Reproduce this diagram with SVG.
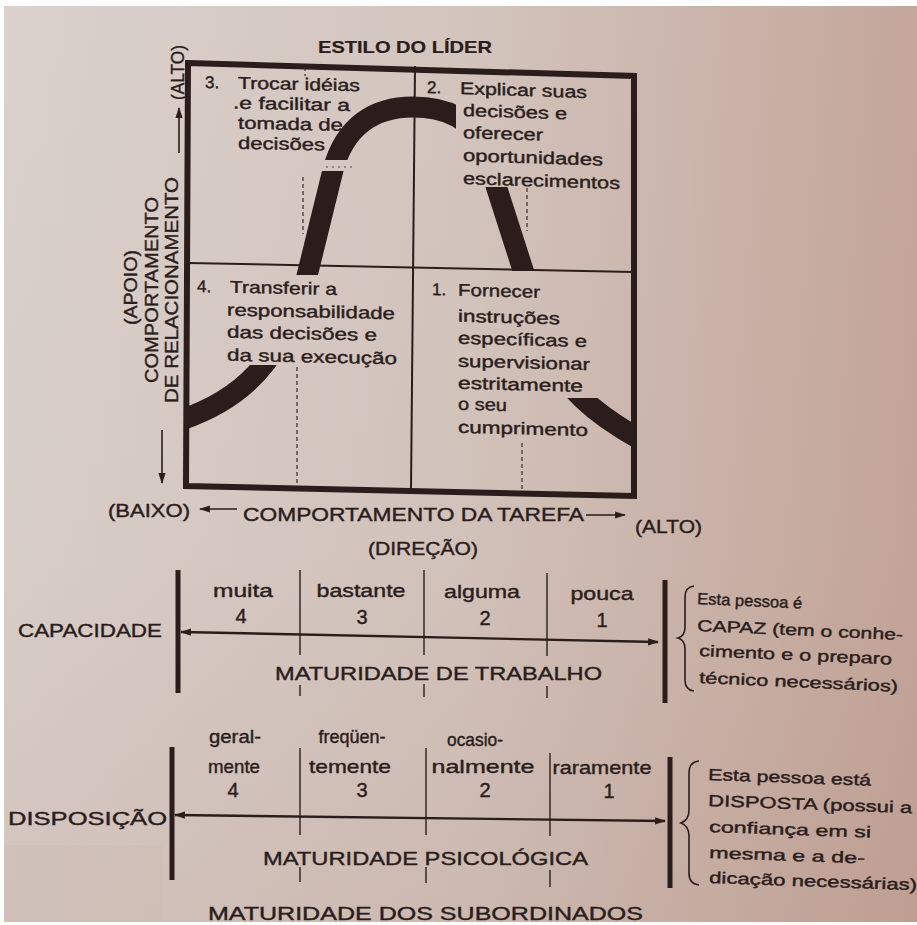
<svg xmlns="http://www.w3.org/2000/svg" width="917" height="925" viewBox="0 0 917 925">
  <defs>
    <linearGradient id="paper" x1="0" y1="0" x2="1" y2="0">
      <stop offset="0" stop-color="#dad1cc"/>
      <stop offset="0.5" stop-color="#d3c5be"/>
      <stop offset="1" stop-color="#c4a69a"/>
    </linearGradient>
    <linearGradient id="paperShade" x1="0" y1="0" x2="0" y2="1">
      <stop offset="0" stop-color="#a07060" stop-opacity="0"/>
      <stop offset="0.6" stop-color="#a07060" stop-opacity="0.04"/>
      <stop offset="1" stop-color="#a07060" stop-opacity="0.14"/>
    </linearGradient>
    <marker id="head" viewBox="0 0 12 10" refX="11" refY="5" markerWidth="14" markerHeight="9" markerUnits="userSpaceOnUse" orient="auto-start-reverse">
      <path d="M0,1 L12,5 L0,9 Z" fill="#2a1d1b"/>
    </marker>
    <clipPath id="boxInside">
      <polygon points="188,63 634,76 634,496 186,486"/>
    </clipPath>
    <!-- knock-outs where the bell curve passes behind the quadrant texts -->
    <mask id="curveGaps" maskUnits="userSpaceOnUse" x="0" y="0" width="917" height="925">
      <rect x="0" y="0" width="917" height="925" fill="#fff"/>
      <rect x="225" y="275" width="110" height="90" fill="#000"/>
      <rect x="300" y="160" width="60" height="11" fill="#000"/>
      <rect x="456" y="90" width="100" height="97" fill="#000"/>
      <rect x="480" y="271" width="160" height="127" fill="#000"/>
    </mask>
    <style>
      .t { font-family: "Liberation Sans", Arial, "DejaVu Sans", sans-serif; fill: #2a1d1b; stroke: #2a1d1b; stroke-width: 0.4; }
      .q { font-size: 17px; }
      .ax { font-size: 19px; }
      .sc { font-size: 19px; }
      .nt { font-size: 16px; }
      .b { font-weight: bold; stroke-width: 0.2; }
      .ink { stroke: #2a1d1b; fill: none; }
      .dash { stroke: #3a2a26; stroke-width: 1.2; stroke-dasharray: 4 3; fill: none; }
    </style>
  </defs>

  <!-- paper -->
  <rect x="0" y="0" width="917" height="925" fill="#ffffff"/>
  <rect x="4" y="6" width="913" height="916" fill="url(#paper)"/>
  <rect x="4" y="6" width="913" height="916" fill="url(#paperShade)"/>
  <rect x="4" y="845" width="158" height="77" fill="#cdbbb5" opacity="0.4"/>

  <!-- title -->
  <text id="title" class="t b" x="318" y="53" font-size="17" textLength="174" lengthAdjust="spacingAndGlyphs">ESTILO DO LÍDER</text>

  <!-- leadership style grid -->
  <g id="style-grid">
    <polygon class="ink" points="188,63 634,76 634,496 186,486" stroke-width="6" stroke-linejoin="miter"/>
    <line class="ink" x1="415" y1="66" x2="411" y2="490" stroke-width="2"/>
    <line class="ink" x1="188" y1="263" x2="634" y2="272" stroke-width="2"/>
    <!-- dashed maturity divisions -->
    <line class="dash" x1="305" y1="67" x2="305" y2="76"/>
    <line class="dash" x1="303" y1="177" x2="303" y2="234"/>
    <line class="dash" x1="527" y1="188" x2="527" y2="231"/>
    <line class="dash" x1="297" y1="367" x2="297" y2="483"/>
    <line class="dash" x1="522" y1="443" x2="522" y2="492"/>
    <line x1="326" y1="167" x2="354" y2="167" stroke="#5a4640" stroke-width="1" stroke-dasharray="2 4"/>
    <!-- prescriptive bell curve -->
    <g clip-path="url(#boxInside)">
      <path id="bell-curve" mask="url(#curveGaps)" class="ink" stroke-width="21" stroke-linecap="butt"
            d="M 178 421 C 215 409, 245 390, 266 362 C 285 337, 298 305, 306 280 L 333 170 C 345 125, 375 107, 413 107 C 445 107, 470 118, 483 145 L 523 270 L 548 345 C 560 385, 595 415, 645 442"/>
    </g>
  </g>

  <!-- quadrant 3 -->
  <g id="q3" transform="translate(205,0) skewY(1.2) translate(-205,0)">
    <text class="t q" x="205" y="88">3.</text>
    <text class="t q" x="238" y="88" textLength="122" lengthAdjust="spacingAndGlyphs">Trocar idéias</text>
    <text class="t q" x="233" y="108" textLength="117" lengthAdjust="spacingAndGlyphs">.e facilitar a</text>
    <text class="t q" x="238" y="128" textLength="105" lengthAdjust="spacingAndGlyphs">tomada de</text>
    <text class="t q" x="238" y="148" textLength="87" lengthAdjust="spacingAndGlyphs">decisões</text>
  </g>

  <!-- quadrant 2 -->
  <g id="q2" transform="translate(427,0) skewY(1.8) translate(-427,0)">
    <text class="t q" x="427" y="93">2.</text>
    <text class="t q" x="460" y="93" textLength="127" lengthAdjust="spacingAndGlyphs">Explicar suas</text>
    <text class="t q" x="463" y="115" textLength="104" lengthAdjust="spacingAndGlyphs">decisões e</text>
    <text class="t q" x="463" y="137" textLength="80" lengthAdjust="spacingAndGlyphs">oferecer</text>
    <text class="t q" x="463" y="160" textLength="140" lengthAdjust="spacingAndGlyphs">oportunidades</text>
    <text class="t q" x="463" y="183" textLength="157" lengthAdjust="spacingAndGlyphs">esclarecimentos</text>
  </g>

  <!-- quadrant 4 -->
  <g id="q4" transform="translate(197,0) skewY(1.2) translate(-197,0)">
    <text class="t q" x="197" y="292">4.</text>
    <text class="t q" x="230" y="292" textLength="107" lengthAdjust="spacingAndGlyphs">Transferir a</text>
    <text class="t q" x="227" y="315" textLength="168" lengthAdjust="spacingAndGlyphs">responsabilidade</text>
    <text class="t q" x="227" y="337" textLength="150" lengthAdjust="spacingAndGlyphs">das decisões e</text>
    <text class="t q" x="227" y="360" textLength="170" lengthAdjust="spacingAndGlyphs">da sua execução</text>
  </g>

  <!-- quadrant 1 -->
  <g id="q1" transform="translate(432,0) skewY(1.5) translate(-432,0)">
    <text class="t q" x="432" y="295">1.</text>
    <text class="t q" x="458" y="295" textLength="82" lengthAdjust="spacingAndGlyphs">Fornecer</text>
    <text class="t q" x="458" y="321" textLength="102" lengthAdjust="spacingAndGlyphs">instruções</text>
    <text class="t q" x="458" y="343" textLength="129" lengthAdjust="spacingAndGlyphs">específicas e</text>
    <text class="t q" x="458" y="366" textLength="132" lengthAdjust="spacingAndGlyphs">supervisionar</text>
    <text class="t q" x="458" y="388" textLength="125" lengthAdjust="spacingAndGlyphs">estritamente</text>
    <text class="t q" x="458" y="409" textLength="49" lengthAdjust="spacingAndGlyphs">o seu</text>
    <text class="t q" x="458" y="432" textLength="130" lengthAdjust="spacingAndGlyphs">cumprimento</text>
  </g>

  <!-- vertical axis labels -->
  <g id="relationship-axis">
    <text class="t ax" transform="translate(184,100) rotate(-90)" font-size="17" textLength="55" lengthAdjust="spacingAndGlyphs">(ALTO)</text>
    <text class="t ax" transform="translate(178,403) rotate(-90)" font-size="18" textLength="226" lengthAdjust="spacingAndGlyphs">DE RELACIONAMENTO</text>
    <text class="t ax" transform="translate(158,383) rotate(-90)" font-size="18" textLength="186" lengthAdjust="spacingAndGlyphs">COMPORTAMENTO</text>
    <text class="t ax" transform="translate(137,325) rotate(-90)" font-size="18" textLength="75" lengthAdjust="spacingAndGlyphs">(APOIO)</text>
  </g>

  <!-- horizontal axis labels -->
  <g id="task-axis">
    <text class="t ax" x="108" y="517" textLength="82" lengthAdjust="spacingAndGlyphs">(BAIXO)</text>
    <text class="t ax" x="243" y="521" textLength="341" lengthAdjust="spacingAndGlyphs">COMPORTAMENTO DA TAREFA</text>
    <text class="t ax" x="635" y="533" textLength="67" lengthAdjust="spacingAndGlyphs">(ALTO)</text>
    <text class="t ax" x="368" y="555" textLength="110" lengthAdjust="spacingAndGlyphs">(DIREÇÃO)</text>
  </g>

  <!-- capacity scale -->
  <g id="capacidade-scale">
    <text class="t sc" x="18" y="637" font-size="20" textLength="144" lengthAdjust="spacingAndGlyphs">CAPACIDADE</text>
    <line class="ink" x1="178" y1="570" x2="178" y2="693" stroke-width="5"/>
    <line class="ink" x1="665" y1="580" x2="665" y2="703" stroke-width="5"/>
    <g class="ink" stroke-width="1.4">
      <line x1="300" y1="570" x2="300" y2="655"/><line x1="300" y1="685" x2="300" y2="696"/>
      <line x1="424" y1="570" x2="424" y2="655"/><line x1="424" y1="684" x2="424" y2="697"/>
      <line x1="547" y1="573" x2="547" y2="656"/><line x1="547" y1="686" x2="547" y2="698"/>
    </g>
    <g class="t sc" text-anchor="middle">
      <text x="243" y="597" textLength="60" lengthAdjust="spacingAndGlyphs">muita</text>
      <text x="361" y="597" textLength="89" lengthAdjust="spacingAndGlyphs">bastante</text>
      <text x="482" y="598" textLength="76" lengthAdjust="spacingAndGlyphs">alguma</text>
      <text x="602" y="600" textLength="63" lengthAdjust="spacingAndGlyphs">pouca</text>
      <text x="241" y="623" font-size="20">4</text>
      <text x="362" y="624" font-size="20">3</text>
      <text x="485" y="625" font-size="20">2</text>
      <text x="602" y="627" font-size="20">1</text>
    </g>
    <text class="t sc" x="275" y="680" font-size="22" textLength="327" lengthAdjust="spacingAndGlyphs">MATURIDADE DE TRABALHO</text>
    <path class="ink" stroke-width="1.6" d="M 694 586 Q 685 587 685 597 L 685 627 Q 685 636 678 638 Q 685 640 685 649 L 685 680 Q 685 690 694 691"/>
    <g class="t nt">
      <text x="697" y="604" transform="rotate(2.5 697 604)" textLength="105" lengthAdjust="spacingAndGlyphs">Esta pessoa é</text>
      <text x="697" y="631" transform="rotate(2.5 697 631)" textLength="206" lengthAdjust="spacingAndGlyphs">CAPAZ (tem o conhe-</text>
      <text x="699" y="656" transform="rotate(2.5 699 656)" textLength="193" lengthAdjust="spacingAndGlyphs">cimento e o preparo</text>
      <text x="699" y="683" transform="rotate(2.5 699 683)" textLength="199" lengthAdjust="spacingAndGlyphs">técnico necessários)</text>
    </g>
  </g>

  <!-- willingness scale -->
  <g id="disposicao-scale">
    <text class="t sc" x="8" y="825" font-size="20" textLength="159" lengthAdjust="spacingAndGlyphs">DISPOSIÇÃO</text>
    <line class="ink" x1="172" y1="747" x2="172" y2="880" stroke-width="5"/>
    <line class="ink" x1="670" y1="757" x2="670" y2="888" stroke-width="5"/>
    <g class="ink" stroke-width="1.4">
      <line x1="300" y1="748" x2="300" y2="835"/><line x1="300" y1="867" x2="300" y2="882"/>
      <line x1="426" y1="748" x2="426" y2="835"/><line x1="426" y1="867" x2="426" y2="883"/>
      <line x1="550" y1="753" x2="550" y2="836"/><line x1="550" y1="870" x2="550" y2="887"/>
    </g>
    <g class="t sc" text-anchor="middle">
      <text x="235" y="743" textLength="52" lengthAdjust="spacingAndGlyphs">geral-</text>
      <text x="352" y="743" textLength="67" lengthAdjust="spacingAndGlyphs">freqüen-</text>
      <text x="475" y="746" textLength="56" lengthAdjust="spacingAndGlyphs">ocasio-</text>
      <text x="234" y="773" textLength="52" lengthAdjust="spacingAndGlyphs">mente</text>
      <text x="350" y="773" textLength="82" lengthAdjust="spacingAndGlyphs">temente</text>
      <text x="483" y="773" textLength="103" lengthAdjust="spacingAndGlyphs">nalmente</text>
      <text x="602" y="774" textLength="99" lengthAdjust="spacingAndGlyphs">raramente</text>
      <text x="233" y="797" font-size="20">4</text>
      <text x="362" y="797" font-size="20">3</text>
      <text x="485" y="797" font-size="20">2</text>
      <text x="609" y="798" font-size="20">1</text>
    </g>
    <text class="t sc" x="263" y="865" font-size="22" textLength="325" lengthAdjust="spacingAndGlyphs">MATURIDADE PSICOLÓGICA</text>
    <path class="ink" stroke-width="1.6" d="M 699 761 Q 689 762 689 773 L 689 810 Q 689 820 681 823 Q 689 826 689 836 L 689 873 Q 689 884 699 885"/>
    <g class="t nt">
      <text x="708" y="780" transform="rotate(2 708 780)" textLength="163" lengthAdjust="spacingAndGlyphs">Esta pessoa está</text>
      <text x="708" y="806" transform="rotate(2 708 806)" textLength="204" lengthAdjust="spacingAndGlyphs">DISPOSTA (possui a</text>
      <text x="709" y="832" transform="rotate(2 709 832)" textLength="162" lengthAdjust="spacingAndGlyphs">confiança em si</text>
      <text x="709" y="858" transform="rotate(2 709 858)" textLength="156" lengthAdjust="spacingAndGlyphs">mesma e a de-</text>
      <text x="709" y="883" transform="rotate(2 709 883)" textLength="208" lengthAdjust="spacingAndGlyphs">dicação necessárias)</text>
    </g>
  </g>

  <text id="footer" class="t sc" x="208" y="920" font-size="22" textLength="435" lengthAdjust="spacingAndGlyphs">MATURIDADE DOS SUBORDINADOS</text>

  <!-- arrows -->
  <g id="connectors" class="ink" stroke-width="1.6">
    <line x1="179" y1="153" x2="179" y2="108" marker-end="url(#head)"/>
    <line x1="162" y1="430" x2="162" y2="483" marker-end="url(#head)"/>
    <line x1="237" y1="509" x2="200" y2="509" marker-end="url(#head)"/>
    <line x1="586" y1="515" x2="625" y2="515" marker-end="url(#head)"/>
    <line x1="181" y1="632" x2="658" y2="642" stroke-width="2.4" marker-start="url(#head)" marker-end="url(#head)"/>
    <line x1="175" y1="815" x2="665" y2="821" stroke-width="2.4" marker-start="url(#head)" marker-end="url(#head)"/>
  </g>
</svg>
